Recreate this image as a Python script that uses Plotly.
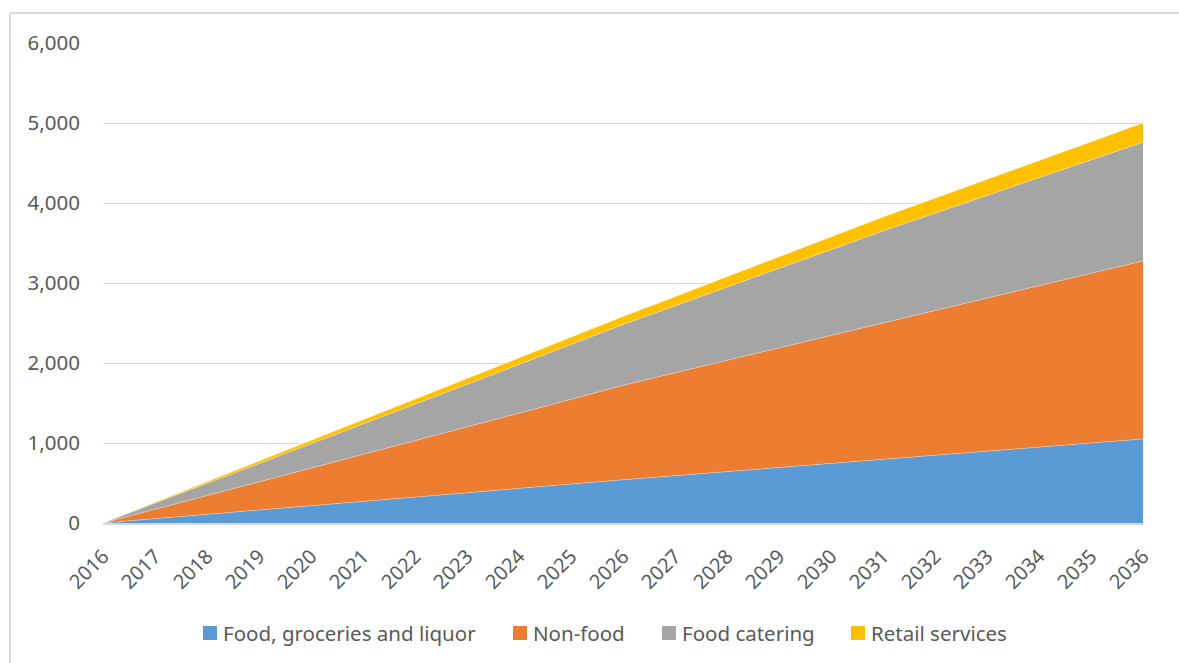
import plotly.graph_objects as go

years = list(range(2016, 2037))

food_groceries = [0, 55, 108, 162, 216, 270, 324, 378, 432, 486, 540,
                  592, 644, 696, 748, 800, 850, 900, 950, 1000, 1050]
non_food = [0, 116, 232, 348, 464, 580, 700, 820, 940, 1060, 1180,
            1285, 1390, 1495, 1600, 1705, 1809, 1913, 2017, 2121, 2225]
food_catering = [0, 76, 152, 228, 304, 380, 456, 532, 608, 684, 760,
                 837, 914, 991, 1068, 1145, 1213, 1281, 1349, 1417, 1485]
retail_services = [0, 12, 24, 36, 48, 60, 68, 76, 84, 92, 100,
                   115, 130, 145, 160, 175, 188, 201, 214, 227, 240]

series_names = ["Food, groceries and liquor", "Non-food", "Food catering", "Retail services"]
series_values = [food_groceries, non_food, food_catering, retail_services]
series_colors = ["#5b9bd5", "#ed7d31", "#a5a5a5", "#ffc000"]

y_ticks = [0, 1000, 2000, 3000, 4000, 5000, 6000]
y_tick_labels = ["0", "1,000", "2,000", "3,000", "4,000", "5,000", "6,000"]

W, H = 1179, 663
ml, mr, mt, mb = 103, 36, 43, 140
pw = W - ml - mr
ph = H - mt - mb

TEXT = "#595959"
FONT = "Noto Sans, Open Sans, sans-serif"

fig = go.Figure()

# stacked areas
for name, vals, color in zip(series_names, series_values, series_colors):
    fig.add_trace(go.Scatter(
        x=years, y=vals, name=name, showlegend=False,
        mode="lines", line=dict(width=0.6, color="rgba(255,255,255,0.5)"),
        stackgroup="one", fillcolor=color,
    ))


def px_x(px):
    return (px - ml) / pw


def px_y(py):
    return (H - mb - py) / ph


# bottom legend: square key + label, laid out left to right
legend_left = [203, 513, 662, 851]   # pixel x of each key square
legend_cy = 633
key = 14
shapes = []
annotations = []
for left, name, color in zip(legend_left, series_names, series_colors):
    shapes.append(dict(
        type="rect", xref="paper", yref="paper",
        x0=px_x(left), x1=px_x(left + key),
        y0=px_y(legend_cy + key / 2), y1=px_y(legend_cy - key / 2),
        fillcolor=color, line=dict(width=0),
    ))
    annotations.append(dict(
        xref="paper", yref="paper", x=px_x(left + key + 4), y=px_y(legend_cy),
        xanchor="left", yanchor="middle", showarrow=False,
        text=name, font=dict(family=FONT, size=20.5, color=TEXT),
    ))

# chart frame (top and left edges)
shapes += [
    dict(type="line", xref="paper", yref="paper",
         x0=px_x(10), x1=px_x(W + 5), y0=px_y(13), y1=px_y(13),
         line=dict(color="#d9d9d9", width=2), layer="below"),
    dict(type="line", xref="paper", yref="paper",
         x0=px_x(10), x1=px_x(10), y0=px_y(13), y1=px_y(H + 5),
         line=dict(color="#d9d9d9", width=2), layer="below"),
]

fig.update_layout(
    width=W, height=H,
    margin=dict(l=ml, r=mr, t=mt, b=mb),
    paper_bgcolor="white", plot_bgcolor="white",
    font=dict(family=FONT, size=20, color=TEXT),
    showlegend=False,
    xaxis=dict(
        range=[2016, 2036], tickmode="array", tickvals=years,
        ticktext=[str(y) for y in years], tickangle=-45,
        tickfont=dict(size=20),
        showgrid=False, zeroline=False, ticks="",
        showline=True, linecolor="#d9d9d9", linewidth=1.5,
        ticklabelstandoff=12, fixedrange=True,
    ),
    yaxis=dict(
        range=[0, 6000], tickmode="array", tickvals=y_ticks,
        ticktext=y_tick_labels, tickfont=dict(size=20.5),
        showgrid=True, gridcolor="#d9d9d9",
        gridwidth=1.3, zeroline=False, showline=False, ticks="",
        ticklabelstandoff=22, fixedrange=True,
    ),
    shapes=shapes,
    annotations=annotations,
)

fig.write_html("out.html")
